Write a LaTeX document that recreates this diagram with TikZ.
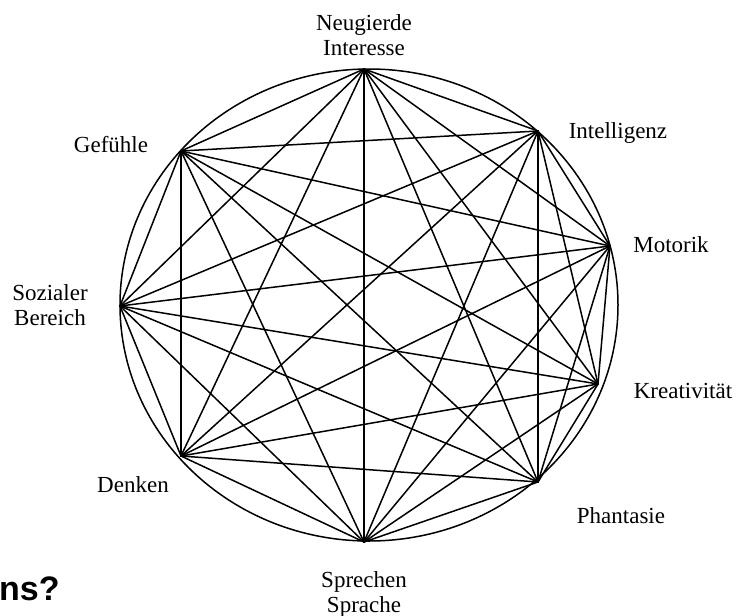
\documentclass[tikz,border=0pt]{standalone}
\usepackage{fontspec}
\setmainfont{Liberation Serif}
\newfontfamily\headsans{Liberation Sans}
\usepackage{tikz}
\usetikzlibrary{calc, positioning}
\definecolor{inkBlack}{HTML}{000000}
\tikzset{
  rim/.style   = {draw=inkBlack, line width=1.5pt},
  edge/.style  = {draw=inkBlack, line width=1.5pt, line cap=round},
  area/.style  = {font=\fontsize{23}{25}\selectfont, align=center, inner sep=0pt},
  qtext/.style = {font=\headsans\bfseries\fontsize{34}{38}\selectfont, inner sep=0pt}
}
\begin{document}
\begin{tikzpicture}[x=1pt, y=-1pt]
  \useasboundingbox (0,0) rectangle (737,616);
  \draw[rim] (369,305) ellipse [x radius=249, y radius=236];
  % points on the ring
  \coordinate (v1) at (364,69);
  \coordinate (v2) at (538,131);
  \coordinate (v3) at (610,246);
  \coordinate (v4) at (598,384);
  \coordinate (v5) at (538,482);
  \coordinate (v6) at (364,542);
  \coordinate (v7) at (181,456);
  \coordinate (v8) at (120,306);
  \coordinate (v9) at (181,151);
  % every point joined to every other
  \foreach \i in {1,...,8}{
    \pgfmathtruncatemacro{\first}{\i+1}
    \foreach \j in {\first,...,9}{
      \draw[edge] (v\i) -- (v\j);
    }
  }
  \node[area] (neugier) at (364,35) {Neugierde\\Interesse};
  \node[area, anchor=base] (intell)  at (618,138) {Intelligenz};
  \node[area, anchor=base] (motor)   at (671,252) {Motorik};
  \node[area, anchor=base] (kreat)   at (683,398) {Kreativität};
  \node[area, anchor=base] (phant)   at (621,523) {Phantasie};
  \node[area] (sprache) at (364,594) {Sprechen\\Sprache};
  \node[area, anchor=base] (denken)  at (133,492) {Denken};
  \node[area] (sozial)  at (50,305)  {Sozialer\\Bereich};
  \node[area, anchor=base] (gefuehl) at (111,152) {Gefühle};
  \node[qtext, anchor=base west] (frage) at (-1,600) {ns?};
\end{tikzpicture}
\end{document}
